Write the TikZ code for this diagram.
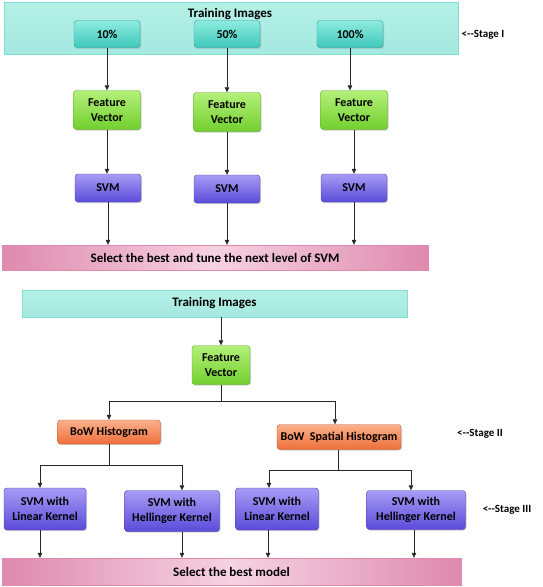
\documentclass[tikz,border=0pt]{standalone}
\usepackage{fontspec}
\setmainfont{Carlito}
\usetikzlibrary{arrows.meta,shadows}
\definecolor{bandC}{HTML}{B4F0E6}
\definecolor{bandD}{HTML}{7EDFD2}
\definecolor{tealA}{HTML}{8EEBE0}
\definecolor{tealB}{HTML}{3FC9BA}
\definecolor{grnA}{HTML}{B4F07A}
\definecolor{grnB}{HTML}{72CF2E}
\definecolor{purA}{HTML}{A79CF5}
\definecolor{purB}{HTML}{5B4BD9}
\definecolor{pinkA}{HTML}{F6D2E2}
\definecolor{pinkB}{HTML}{DE8AAE}
\definecolor{orA}{HTML}{FBB08C}
\definecolor{orB}{HTML}{EE6F3A}
\tikzset{
  every node/.style={font=\bfseries\fontsize{12}{14}\selectfont, align=center, inner sep=1pt},
  base/.style={rounded corners=3pt, drop shadow={opacity=0.35, shadow xshift=1pt, shadow yshift=-1.2pt}},
  band/.style={base, rounded corners=0pt, draw=bandD, top color=bandC, bottom color=bandD!70, font=\bfseries\fontsize{13}{15}\selectfont},
  pct/.style={base, draw=tealB!80!black, top color=tealA, bottom color=tealB, minimum width=66pt, minimum height=27pt},
  fvec/.style={base, draw=grnB!80!black, top color=grnA, bottom color=grnB, minimum width=67pt, minimum height=39pt},
  svmb/.style={base, draw=purB!80!black, top color=purA, bottom color=purB, minimum height=28pt},
  bowb/.style={base, draw=orB!80!black, top color=orA, bottom color=orB, minimum height=25pt},
  selb/.style={base, rounded corners=0pt, draw=pinkB, left color=pinkB, right color=pinkB, middle color=pinkA, font=\bfseries\fontsize{13}{15}\selectfont},
  stg/.style={font=\bfseries\fontsize{11}{13}\selectfont},
  arr/.style={-{Triangle[length=5pt,width=4.5pt]}, line width=0.6pt, black!85},
  ln/.style={line width=0.6pt, black!85}
}
\begin{document}
\begin{tikzpicture}[x=1pt,y=-1pt]
\useasboundingbox (0,0) rectangle (543,587);
% Stage I
\node[band, minimum width=454pt, minimum height=52pt] (tb1) at (231,28) {};
\node[font=\bfseries\fontsize{13}{15}\selectfont] (tbt) at (230,14) {Training Images};
\node[pct] (p10) at (107,34) {10\%};
\node[pct] (p50) at (227,34) {50\%};
\node[pct] (p100) at (350,34) {100\%};
\node[stg] (st1) at (483,35) {<{-}{-}Stage I};

\node[fvec] (fv1) at (107,110) {Feature\\[1pt]Vector};
\node[fvec] (fv2) at (227,112) {Feature\\[1pt]Vector};
\node[fvec] (fv3) at (354,110) {Feature\\[1pt]Vector};

\node[svmb, minimum width=66pt] (sv1) at (108,188) {SVM};
\node[svmb, minimum width=66pt] (sv2) at (227,189) {SVM};
\node[svmb, minimum width=66pt] (sv3) at (354,188) {SVM};

\node[selb, minimum width=426pt, minimum height=25pt] (sel1) at (215,257.5) {Select the best and tune the next level of SVM};

\draw[arr] (p10.south) -- (p10.south |- fv1.north);
\draw[arr] (p50.south) -- (p50.south |- fv2.north);
\draw[arr] (p100.south) -- (p100.south |- fv3.north);
\draw[arr] (fv1.south) -- (fv1.south |- sv1.north);
\draw[arr] (fv2.south) -- (fv2.south |- sv2.north);
\draw[arr] (fv3.south) -- (fv3.south |- sv3.north);
\draw[arr] (sv1.south) -- (sv1.south |- sel1.north);
\draw[arr] (sv2.south) -- (sv2.south |- sel1.north);
\draw[arr] (sv3.south) -- (sv3.south |- sel1.north);

% Stage II / III
\node[band, minimum width=385pt, minimum height=27pt] (tb2) at (214.5,303.5) {Training Images};
\node[fvec, minimum width=58pt] (fv4) at (221,365) {Feature\\[1pt]Vector};
\node[bowb, minimum width=103pt, minimum height=24pt] (bw1) at (109,432) {BoW Histogram};
\node[bowb, minimum width=124pt] (bw2) at (339,437) {BoW\ \ Spatial Histogram};
\node[stg] (st2) at (480,434) {<{-}{-}Stage II};

\node[svmb, minimum width=82pt, minimum height=42pt] (s31) at (45,509) {SVM with\\[1pt]Linear Kernel};
\node[svmb, minimum width=95pt, minimum height=41pt] (s32) at (172,511) {SVM with\\[1pt]Hellinger Kernel};
\node[svmb, minimum width=83pt, minimum height=42pt] (s33) at (277,509) {SVM with\\[1pt]Linear Kernel};
\node[svmb, minimum width=99pt, minimum height=39pt] (s34) at (416,510) {SVM with\\[1pt]Hellinger Kernel};
\node[stg] (st3) at (507,510) {<{-}{-}Stage III};

\node[selb, minimum width=459pt, minimum height=27pt] (sel2) at (231.5,571.5) {Select the best model};

\draw[arr] (tb2.south -| fv4) -- (fv4.north);
\coordinate (j1) at (221,401);
\coordinate (j1l) at (109,401);
\coordinate (j1r) at (335,401);
\draw[ln] (fv4.south) -- (j1);
\draw[ln] (j1l) -- (j1r);
\draw[arr] (j1l) -- (j1l |- bw1.north);
\draw[arr] (j1r) -- (j1r |- bw2.north);

\coordinate (j2) at (109,465);
\coordinate (j2l) at (40,465);
\coordinate (j2r) at (182,465);
\draw[ln] (bw1.south) -- (j2);
\draw[ln] (j2l) -- (j2r);
\draw[arr] (j2l) -- (j2l |- s31.north);
\draw[arr] (j2r) -- (j2r |- s32.north);

\coordinate (j3) at (338,470);
\coordinate (j3l) at (269,470);
\coordinate (j3r) at (411,470);
\draw[ln] (bw2.south -| j3) -- (j3);
\draw[ln] (j3l) -- (j3r);
\draw[arr] (j3l) -- (j3l |- s33.north);
\draw[arr] (j3r) -- (j3r |- s34.north);

\coordinate (a1) at (40,0);
\coordinate (a2) at (182,0);
\coordinate (a3) at (268,0);
\coordinate (a4) at (414,0);
\draw[arr] (a1 |- s31.south) -- (a1 |- sel2.north);
\draw[arr] (a2 |- s32.south) -- (a2 |- sel2.north);
\draw[arr] (a3 |- s33.south) -- (a3 |- sel2.north);
\draw[arr] (a4 |- s34.south) -- (a4 |- sel2.north);
\end{tikzpicture}
\end{document}
